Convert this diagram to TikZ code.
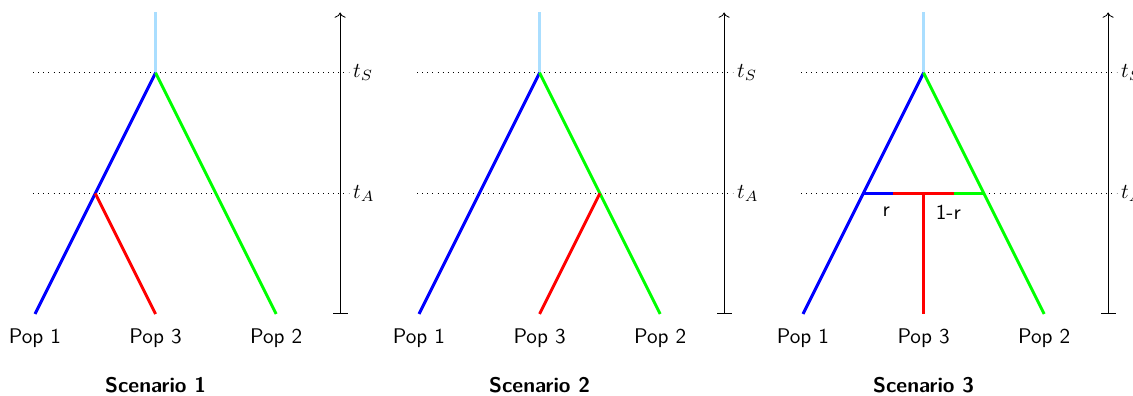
\documentclass[tikz,border=0pt]{standalone}
\usetikzlibrary{arrows.meta}
\definecolor{lb}{RGB}{170,222,255}
\definecolor{pb}{RGB}{0,0,255}
\definecolor{pr}{RGB}{255,0,0}
\definecolor{pg}{RGB}{0,255,0}
\tikzset{
  br/.style={line width=1.4pt},
  guide/.style={dotted},
  axisline/.style={{Bar[width=7pt]}-{To}},
  poplabel/.style={font=\sffamily},
  title/.style={font=\sffamily\bfseries},
  tlabel/.style={right,inner sep=2pt}
}
\begin{document}
\begin{tikzpicture}
\useasboundingbox (-0.580,-1.360) rectangle (18.209,5.207);
\foreach \s/\off in {1/0,2/6.368,3/12.736} {
  \begin{scope}[xshift=\off cm]
    \coordinate (L1\s) at (0,0);
    \coordinate (L3\s) at (2,0);
    \coordinate (L2\s) at (4,0);
    \coordinate (R\s) at (2,4);
    \coordinate (T\s) at (2,5);
    \draw[guide] (-0.03,4) -- (5.2,4) node[tlabel] (tS\s) {$t_S$};
    \draw[guide] (-0.03,2) -- (5.2,2) node[tlabel] (tA\s) {$t_A$};
    \coordinate (A0\s) at (5.06,0);
    \coordinate (A1\s) at (5.06,5.0);
    \draw[axisline] (A0\s) -- (A1\s);
    \draw[br,lb] (R\s) -- (T\s);
    \node[poplabel] (p1\s) at (0,-0.40) {Pop 1};
    \node[poplabel] (p3\s) at (2,-0.40) {Pop 3};
    \node[poplabel] (p2\s) at (4,-0.40) {Pop 2};
    \node[title] (title\s) at (2,-1.18) {Scenario \s};
  \end{scope}
}
% Scenario 1
\coordinate (m1) at (1,2);
\draw[br,pb] (L11) -- (R1);
\draw[br,pg] (R1) -- (L21);
\draw[br,pr] (m1) -- (L31);
% Scenario 2
\coordinate (m2) at (6.368+3,2);
\draw[br,pb] (L12) -- (R2);
\draw[br,pg] (R2) -- (L22);
\draw[br,pr] (m2) -- (L32);
% Scenario 3
\begin{scope}[xshift=12.736cm]
  \coordinate (b3) at (1,2);
  \coordinate (c3) at (1.5,2);
  \coordinate (d3) at (2,2);
  \coordinate (e3) at (2.5,2);
  \coordinate (g3) at (3,2);
  \draw[br,pb] (L13) -- (R3);
  \draw[br,pg] (R3) -- (L23);
  \draw[br,pb] (b3) -- (c3);
  \draw[br,pr] (c3) -- (e3);
  \draw[br,pg] (e3) -- (g3);
  \draw[br,pr] (d3) -- (L33);
  \node[font=\sffamily] (r3) at (1.38,1.69) {r};
  \node[font=\sffamily] (rr3) at (2.41,1.69) {1-r};
\end{scope}
\end{tikzpicture}
\end{document}
